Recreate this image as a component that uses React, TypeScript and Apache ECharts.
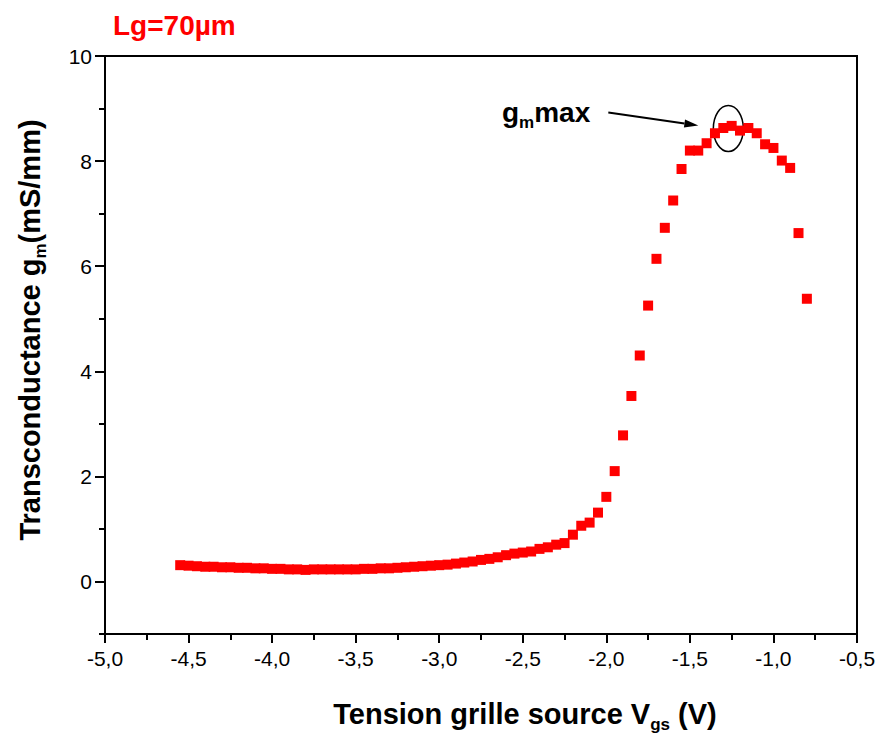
import React, { useEffect, useRef } from "react";
import * as echarts from "echarts";

const vgs = [
  -4.55, -4.5, -4.45, -4.4, -4.35, -4.3, -4.25, -4.2, -4.15, -4.1, -4.05, -4.0,
  -3.95, -3.9, -3.85, -3.8, -3.75, -3.7, -3.65, -3.6, -3.55, -3.5, -3.45, -3.4,
  -3.35, -3.3, -3.25, -3.2, -3.15, -3.1, -3.05, -3.0, -2.95, -2.9, -2.85, -2.8,
  -2.75, -2.7, -2.65, -2.6, -2.55, -2.5, -2.45, -2.4, -2.35, -2.3, -2.25, -2.2,
  -2.15, -2.1, -2.05, -2.0, -1.95, -1.9, -1.85, -1.8, -1.75, -1.7, -1.65, -1.6,
  -1.55, -1.5, -1.45, -1.4, -1.35, -1.3, -1.25, -1.2, -1.15, -1.1, -1.05, -1.0,
  -0.95, -0.9, -0.85, -0.8,
];
const gm = [
  0.31, 0.3, 0.29, 0.28, 0.28, 0.27, 0.27, 0.26, 0.26, 0.25, 0.25, 0.24,
  0.24, 0.23, 0.23, 0.22, 0.23, 0.23, 0.23, 0.23, 0.23, 0.23, 0.24, 0.24,
  0.25, 0.25, 0.26, 0.27, 0.28, 0.29, 0.3, 0.31, 0.32, 0.34, 0.36, 0.38,
  0.41, 0.43, 0.46, 0.5, 0.53, 0.55, 0.57, 0.62, 0.65, 0.7, 0.73, 0.89,
  1.06, 1.12, 1.31, 1.61, 2.1, 2.78, 3.53, 4.3, 5.25, 6.14, 6.73, 7.25,
  7.85, 8.2, 8.2, 8.34, 8.53, 8.63, 8.67, 8.58, 8.63, 8.53, 8.32, 8.25,
  8.01, 7.87, 6.63, 5.38,
];
const yMajorTicks = [0, 2, 4, 6, 8, 10];
const yMinorTicks = [-1, 1, 3, 5, 7, 9];
const gmMaxPoint = [-1.27, 8.62];

const FONT = "Liberation Sans, Arial, sans-serif";

export default function App() {
  const ref = useRef<HTMLDivElement>(null);
  useEffect(() => {
    if (!ref.current) return;
    const chart = echarts.init(ref.current, undefined, { renderer: "svg" });
    const axisLineStyle = { color: "#000", width: 2 };
    const tickStyle = { color: "#000", width: 2 };
    chart.setOption({
      animation: false,
      backgroundColor: "#fff",
      grid: {
        left: 105,
        right: 22,
        top: 56,
        bottom: 104,
        show: true,
        borderColor: "#000",
        borderWidth: 2,
      },
      xAxis: {
        type: "value",
        min: -5,
        max: -0.5,
        interval: 0.5,
        axisLine: { show: true, onZero: false, lineStyle: axisLineStyle },
        axisTick: { show: true, length: 9, lineStyle: tickStyle },
        minorTick: { show: true, splitNumber: 2, length: 6, lineStyle: tickStyle },
        splitLine: { show: false },
        axisLabel: {
          color: "#000",
          fontSize: 21,
          fontFamily: FONT,
          margin: 14,
          formatter: (v: number) => v.toFixed(1).replace(".", ","),
        },
      },
      yAxis: [
        {
          type: "value",
          min: -1,
          max: 10,
          position: "left",
          axisLine: { show: true, onZero: false, lineStyle: axisLineStyle },
          axisTick: { show: true, length: 10, customValues: yMajorTicks, lineStyle: tickStyle },
          splitLine: { show: false },
          axisLabel: {
            color: "#000",
            fontSize: 21,
            fontFamily: FONT,
            margin: 13,
            customValues: yMajorTicks,
          },
        },
        {
          type: "value",
          min: -1,
          max: 10,
          position: "left",
          axisLine: { show: false },
          axisTick: { show: true, length: 6, customValues: yMinorTicks, lineStyle: tickStyle },
          splitLine: { show: false },
          axisLabel: { show: false },
        },
      ],
      series: [
        {
          type: "scatter",
          data: vgs.map((x, i) => [x, gm[i]]),
          symbol: "rect",
          symbolSize: 10,
          itemStyle: { color: "#ff0000", opacity: 1 },
        },
      ],
    });

    const c = chart.convertToPixel({ gridIndex: 0 }, gmMaxPoint) as number[];
    const tip = [c[0] - 30, c[1] - 3];
    const start = [c[0] - 120, c[1] - 16];
    const ang = Math.atan2(tip[1] - start[1], tip[0] - start[0]);
    const hl = 14, hw = 4;
    const bx = tip[0] - hl * Math.cos(ang), by = tip[1] - hl * Math.sin(ang);
    const px = -Math.sin(ang) * hw, py = Math.cos(ang) * hw;

    const sub = (size: number) => ({
      fontSize: size,
      fontWeight: "bold",
      fontFamily: FONT,
      fill: "#000",
      padding: [20, 0, 0, 0],
    });
    const big = (size: number) => ({ fontSize: size, fontWeight: "bold", fontFamily: FONT, fill: "#000" });

    chart.setOption({
      graphic: [
        {
          type: "text",
          left: 113,
          top: 11,
          style: {
            text: "Lg=70µm",
            fill: "#ff0000",
            font: `bold 28px ${FONT}`,
          },
        },
        {
          type: "text",
          x: 525,
          y: 714,
          style: {
            text: "{b|Tension grille source V}{s|gs}{b| (V)}",
            align: "center",
            verticalAlign: "middle",
            rich: { b: big(29), s: sub(17) },
          },
        },
        {
          type: "text",
          x: 30,
          y: 330,
          rotation: Math.PI / 2,
          style: {
            text: "{b|Transconductance g}{s|m}{b|(mS/mm)}",
            align: "center",
            verticalAlign: "middle",
            rich: { b: big(29), s: sub(17) },
          },
        },
        {
          type: "text",
          x: 502,
          y: 112,
          style: {
            text: "{b|g}{s|m}{b|max}",
            align: "left",
            verticalAlign: "middle",
            rich: { b: big(28), s: sub(17) },
          },
        },
        {
          type: "line",
          shape: { x1: start[0], y1: start[1], x2: bx, y2: by },
          style: { stroke: "#000", lineWidth: 2 },
        },
        {
          type: "polygon",
          shape: {
            points: [
              [tip[0], tip[1]],
              [bx + px, by + py],
              [bx - px, by - py],
            ],
          },
          style: { fill: "#000" },
        },
        {
          type: "ellipse",
          shape: { cx: c[0], cy: c[1], rx: 15, ry: 23 },
          style: { fill: "none", stroke: "#000", lineWidth: 1.5 },
        },
      ],
    });
    return () => chart.dispose();
  }, []);
  return (
    <div
      ref={ref}
      style={{ position: "fixed", left: 0, top: 0, width: 879, height: 738, background: "#fff" }}
    />
  );
}
